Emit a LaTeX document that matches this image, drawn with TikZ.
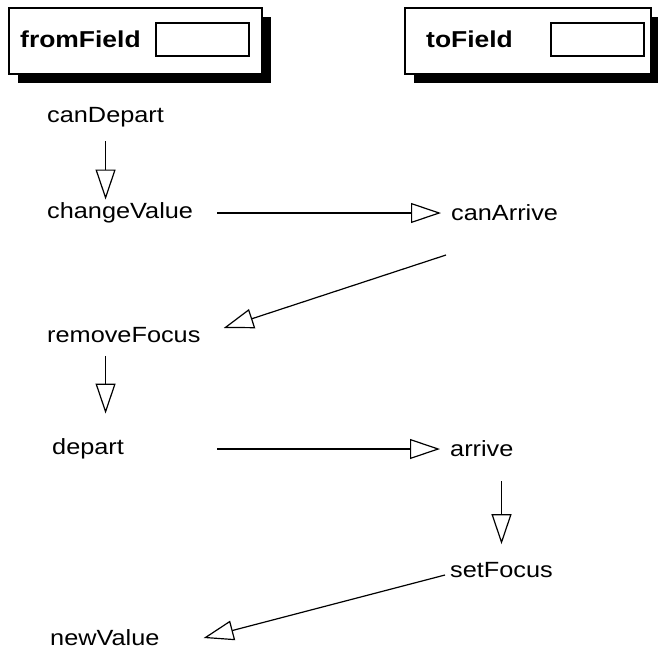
\documentclass[tikz,border=0pt]{standalone}
\usepackage{fontspec}
\setmainfont{Liberation Sans}[FakeStretch=1.15]
\usetikzlibrary{positioning, arrows.meta, shadows}

\begin{document}
\begin{tikzpicture}[x=1pt, y=-1pt,
    field/.style={draw, line width=1.6pt, fill=white, anchor=north west,
                  minimum width=253pt, minimum height=66pt,
                  drop shadow={shadow xshift=9pt, shadow yshift=-9pt, fill=black, opacity=1}},
    slot/.style={draw, line width=1.6pt, anchor=north west, minimum width=93pt, minimum height=33pt},
    title/.style={anchor=west, inner sep=0pt, font=\bfseries\fontsize{23}{27}\selectfont},
    event/.style={anchor=west, inner sep=0pt, font=\fontsize{22}{26}\selectfont},
    flow/.style={-{Triangle[open, length=30pt, width=20pt]}, line width=1.2pt}
]
    \useasboundingbox (0,0) rectangle (658,653);

    % Fields
    \node[field] (fromBox) at (8,7) {};
    \node[title] (fromField) at (20,39) {fromField};
    \node[slot] (fromSlot) at (155,22) {};
    \node[field, minimum width=246pt] (toBox) at (404,7) {};
    \node[title] (toField) at (426,39) {toField};
    \node[slot] (toSlot) at (550,22) {};

    % Events
    \node[event] (canDepart) at (47,117) {canDepart};
    \node[event] (changeValue) at (47,213) {changeValue};
    \node[event] (canArrive) at (451,213) {canArrive};
    \node[event] (removeFocus) at (47,335) {removeFocus};
    \node[event] (depart) at (52,449) {depart};
    \node[event] (arrive) at (450,449) {arrive};
    \node[event] (setFocus) at (450,570) {setFocus};
    \node[event] (newValue) at (50,638) {newValue};

    % Connections
    \draw[flow] ([yshift=-14pt]canDepart.south) -- ([yshift=3pt]canDepart.south |- changeValue.north);
    \draw[flow] ([xshift=24pt]changeValue.east) -- ([xshift=-10pt]canArrive.west);
    \draw[flow] ([shift={(-5pt,-42pt)}]canArrive.west) -- ([shift={(23pt,7pt)}]removeFocus.east);
    \draw[flow] ([yshift=-13pt]canDepart.south |- removeFocus.south) -- ([yshift=25pt]canDepart.south |- depart.north);
    \draw[flow] ([xshift=24pt]changeValue.east |- depart.east) -- ([xshift=-10pt]arrive.west);
    \draw[flow] ([yshift=-24pt]setFocus.north |- arrive.south) -- ([yshift=18pt]setFocus.north);
    \draw[flow] ([shift={(-5pt,-5pt)}]setFocus.west) -- ([shift={(44pt,0pt)}]newValue.east);
\end{tikzpicture}
\end{document}
